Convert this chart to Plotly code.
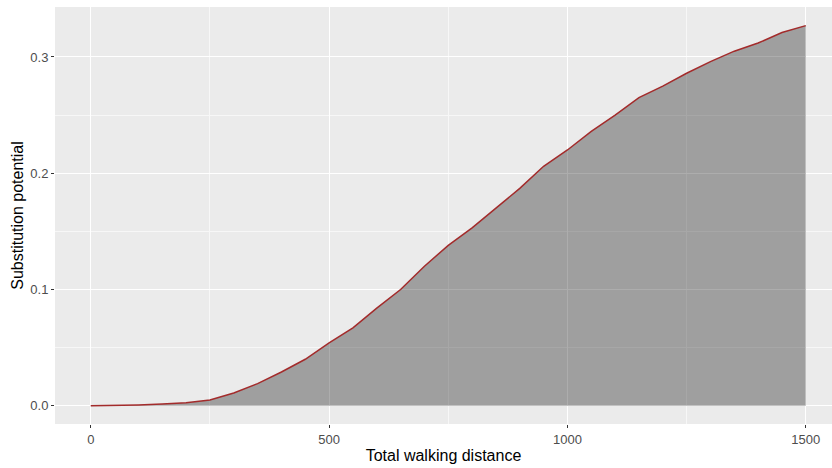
import plotly.graph_objects as go

distance = [0, 50, 100, 150, 200, 250, 300, 350, 400, 450, 500, 550, 600, 650, 700,
            750, 800, 850, 900, 950, 1000, 1050, 1100, 1150, 1200, 1250, 1300, 1350,
            1400, 1450, 1500]
potential = [0.0, 0.0002, 0.0007, 0.0014, 0.0025, 0.005, 0.011, 0.019, 0.029, 0.040,
             0.054, 0.067, 0.084, 0.100, 0.120, 0.138, 0.153, 0.170, 0.187, 0.206,
             0.220, 0.236, 0.250, 0.265, 0.275, 0.286, 0.296, 0.305, 0.312, 0.321, 0.327]

x_ticks = [0, 500, 1000, 1500]
y_ticks = [0.0, 0.1, 0.2, 0.3]

fig = go.Figure()
fig.add_trace(go.Scatter(x=distance, y=potential, mode="lines", fill="tozeroy",
                         fillcolor="rgba(0,0,0,0.32)", line=dict(width=0),
                         hoverinfo="skip", showlegend=False))
fig.add_trace(go.Scatter(x=distance, y=potential, mode="lines",
                         line=dict(color="#a32b2b", width=1.5), showlegend=False))

axis_common = dict(
    showgrid=True, gridcolor="white", gridwidth=1.3, zeroline=False,
    ticks="outside", ticklen=3, tickwidth=1, tickcolor="#333333",
    tickfont=dict(family="Liberation Sans, Arial, sans-serif", size=13, color="#4d4d4d"),
    showline=False, automargin=False,
)

fig.update_layout(
    width=832, height=468,
    margin=dict(l=55, r=0, t=7, b=44),
    paper_bgcolor="white", plot_bgcolor="#ebebeb",
    font=dict(family="Liberation Sans, Arial, sans-serif"),
    xaxis=dict(axis_common, range=[-75, 1555], tickvals=x_ticks,
               ticktext=[str(v) for v in x_ticks],
               minor=dict(dtick=250, tick0=0, showgrid=True, gridcolor="#f7f7f7", gridwidth=0.7, ticks=""),
               title=dict(text="Total walking distance", standoff=4,
                          font=dict(size=16, color="black"))),
    yaxis=dict(axis_common, range=[-0.0157, 0.343], tickvals=y_ticks,
               ticktext=["%.1f" % v for v in y_ticks],
               minor=dict(dtick=0.05, tick0=0, showgrid=True, gridcolor="#f7f7f7", gridwidth=0.7, ticks=""),
               title=dict(text="Substitution potential", standoff=2,
                          font=dict(size=16, color="black"))),
)

fig.write_html("out.html", config={"displayModeBar": False},
               post_script="document.body.style.margin='0px';")
